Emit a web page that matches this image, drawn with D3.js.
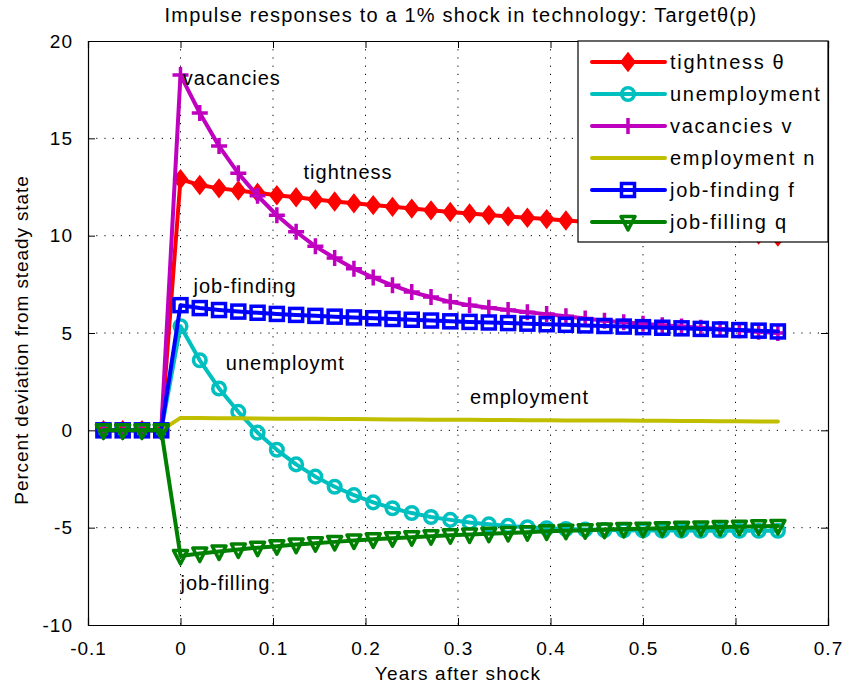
<!DOCTYPE html>
<html>
<head>
<meta charset="utf-8">
<script src="https://cdn.jsdelivr.net/npm/d3@7"></script>
<style>
  body { margin: 0; background: #fff; }
  text { font-family: "Liberation Sans", Arial, Helvetica, sans-serif; fill: #000; }
</style>
</head>
<body>
<div class="chart"></div>
<script>
// weekly periods (48 per year) around the shock
const STEPS = d3.range(-4, 32);
const YEARS = STEPS.map(k => k / 48);

// 4 pre-shock zeros then k = 0..31
const TIGHTNESS = [0, 0, 0, 0,
  12.9, 12.6, 12.43, 12.32, 12.2, 12.08, 11.97, 11.86, 11.76, 11.66, 11.57, 11.48,
  11.39, 11.3, 11.22, 11.14, 11.06, 10.99, 10.92, 10.85, 10.78, 10.71, 10.64, 10.57,
  10.5, 10.43, 10.36, 10.29, 10.22, 10.15, 10.06, 9.96];
const UNEMPLOYMENT = [0, 0, 0, 0,
  5.35, 3.6, 2.15, 0.95, -0.12, -1.0, -1.75, -2.38, -2.9, -3.33, -3.7, -4.0,
  -4.25, -4.45, -4.6, -4.73, -4.83, -4.91, -4.98, -5.03, -5.07, -5.1, -5.12, -5.13,
  -5.14, -5.15, -5.15, -5.16, -5.16, -5.16, -5.16, -5.16];
const VACANCIES = [0, 0, 0, 0,
  18.25, 16.3, 14.6, 13.2, 12.05, 11.05, 10.2, 9.45, 8.85, 8.3, 7.85, 7.45,
  7.1, 6.85, 6.6, 6.43, 6.3, 6.18, 6.07, 5.97, 5.86, 5.75, 5.63, 5.55,
  5.47, 5.4, 5.33, 5.27, 5.2, 5.14, 5.07, 5.0];
const EMPLOYMENT = [0, 0, 0, 0,
  0.64, 0.63, 0.62, 0.62, 0.61, 0.6, 0.6, 0.59, 0.58, 0.58, 0.57, 0.56,
  0.56, 0.55, 0.55, 0.54, 0.53, 0.53, 0.52, 0.52, 0.51, 0.51, 0.5, 0.5,
  0.49, 0.49, 0.48, 0.48, 0.47, 0.47, 0.46, 0.46];
const JOB_FINDING = [0, 0, 0, 0,
  6.43, 6.28, 6.18, 6.1, 6.04, 5.98, 5.93, 5.88, 5.84, 5.8, 5.76, 5.72,
  5.68, 5.64, 5.6, 5.57, 5.54, 5.51, 5.48, 5.45, 5.42, 5.39, 5.36, 5.33,
  5.3, 5.27, 5.24, 5.21, 5.18, 5.15, 5.12, 5.08];
const JOB_FILLING = [0, 0, 0, 0,
  -6.45, -6.33, -6.22, -6.12, -6.03, -5.95, -5.87, -5.8, -5.73, -5.66, -5.6, -5.54,
  -5.49, -5.44, -5.39, -5.35, -5.31, -5.27, -5.23, -5.19, -5.16, -5.13, -5.1, -5.07,
  -5.05, -5.03, -5.01, -4.99, -4.97, -4.95, -4.93, -4.91];

const X_TICKS = [-0.1, 0, 0.1, 0.2, 0.3, 0.4, 0.5, 0.6, 0.7];
const Y_TICKS = [-10, -5, 0, 5, 10, 15, 20];

const LEGEND_LABELS = ["tightness θ", "unemployment", "vacancies v", "employment n", "job-finding f", "job-filling q"];

// in-plot annotations: [label, x (years), y (percent)]
const ANNOTATIONS = [
  ["vacancies", 0.0025, 17.74],
  ["tightness", 0.133, 12.9],
  ["job-finding", 0.014, 7.05],
  ["unemploymt", 0.049, 3.1],
  ["employment", 0.313, 1.35],
  ["job-filling", 0.0, -8.2],
];

const SERIES = [
  { values: TIGHTNESS, color: "#ff0000", marker: "diamond" },
  { values: UNEMPLOYMENT, color: "#00bfbf", marker: "circle" },
  { values: VACANCIES, color: "#bf00bf", marker: "plus" },
  { values: EMPLOYMENT, color: "#bfbf00", marker: "none" },
  { values: JOB_FINDING, color: "#0000ff", marker: "square" },
  { values: JOB_FILLING, color: "#008000", marker: "triangle" },
];

const WIDTH = 850, HEIGHT = 688;
const PLOT = { left: 88, right: 828, top: 41, bottom: 625 };
const LINE_W = 4;

const xScale = d3.scaleLinear().domain([-0.1, 0.7]).range([PLOT.left, PLOT.right]);
const yScale = d3.scaleLinear().domain([-10, 20]).range([PLOT.bottom, PLOT.top]);

const svg = d3.select(".chart").append("svg")
  .attr("width", WIDTH).attr("height", HEIGHT);

svg.append("rect").attr("width", WIDTH).attr("height", HEIGHT).attr("fill", "#fff");

// grid
const grid = svg.append("g").attr("class", "grid")
  .attr("stroke", "#000").attr("stroke-width", 1).attr("stroke-dasharray", "1.2,7");
grid.selectAll(".gx").data(X_TICKS.slice(1, -1)).join("line")
  .attr("x1", d => xScale(d)).attr("x2", d => xScale(d))
  .attr("y1", PLOT.top).attr("y2", PLOT.bottom);
grid.selectAll(".gy").data(Y_TICKS.slice(1, -1)).join("line")
  .attr("y1", d => yScale(d)).attr("y2", d => yScale(d))
  .attr("x1", PLOT.left).attr("x2", PLOT.right);

// axes, ticks inward on all four sides
const fmt = d => String(+d.toFixed(1));
const TICK = 7;
svg.append("g").attr("transform", `translate(0,${PLOT.bottom})`)
  .call(d3.axisBottom(xScale).tickValues(X_TICKS).tickFormat(fmt).tickSize(-TICK).tickPadding(TICK + 10));
svg.append("g").attr("transform", `translate(${PLOT.left},0)`)
  .call(d3.axisLeft(yScale).tickValues(Y_TICKS).tickFormat(fmt).tickSize(-TICK).tickPadding(TICK + 8));
svg.append("g").attr("transform", `translate(0,${PLOT.top})`)
  .call(d3.axisTop(xScale).tickValues(X_TICKS).tickFormat("").tickSize(-TICK));
svg.append("g").attr("transform", `translate(${PLOT.right},0)`)
  .call(d3.axisRight(yScale).tickValues(Y_TICKS).tickFormat("").tickSize(-TICK));

svg.selectAll(".domain").attr("stroke", "#000").attr("stroke-width", 1.2);
svg.selectAll(".tick line").attr("stroke", "#000");
svg.selectAll(".tick text")
  .attr("font-size", 19).attr("letter-spacing", 1)
  .attr("font-family", "Liberation Sans, Arial, sans-serif").attr("fill", "#000");

// marker shapes
function drawMarker(g, type, color) {
  if (type === "diamond") {
    g.append("path").attr("d", "M0,-9L7,0L0,9L-7,0Z")
      .attr("fill", color).attr("stroke", color).attr("stroke-width", 1.5);
  } else if (type === "circle") {
    g.append("circle").attr("r", 6.3)
      .attr("fill", "none").attr("stroke", color).attr("stroke-width", 3.5);
  } else if (type === "plus") {
    g.append("path").attr("d", "M-8,0H8M0,-8V8")
      .attr("stroke", color).attr("stroke-width", 3.5);
  } else if (type === "square") {
    g.append("rect").attr("x", -6.5).attr("y", -6.5).attr("width", 13).attr("height", 13)
      .attr("fill", "none").attr("stroke", color).attr("stroke-width", 3.5);
  } else if (type === "triangle") {
    g.append("path").attr("d", "M-7,-5.5L7,-5.5L0,8Z")
      .attr("fill", "none").attr("stroke", color).attr("stroke-width", 3.5)
      .attr("stroke-linejoin", "round");
  }
}

const line = d3.line().x((d, i) => xScale(YEARS[i])).y(d => yScale(d));

const plot = svg.append("g").attr("class", "series");
SERIES.forEach(s => {
  const g = plot.append("g");
  g.append("path").datum(s.values)
    .attr("d", line).attr("fill", "none")
    .attr("stroke", s.color).attr("stroke-width", LINE_W)
    .attr("stroke-linejoin", "round").attr("stroke-linecap", "round");
  if (s.marker !== "none") {
    g.selectAll(".m").data(s.values).join("g")
      .attr("transform", (d, i) => `translate(${xScale(YEARS[i])},${yScale(d)})`)
      .each(function () { drawMarker(d3.select(this), s.marker, s.color); });
  }
});

// annotations
svg.append("g").selectAll("text").data(ANNOTATIONS).join("text")
  .attr("x", d => xScale(d[1])).attr("y", d => yScale(d[2]))
  .attr("font-size", 20).attr("letter-spacing", 1)
  .text(d => d[0]);

// legend
const legend = svg.append("g").attr("transform", "translate(578,41)");
legend.append("rect").attr("width", 250).attr("height", 201)
  .attr("fill", "#fff").attr("stroke", "#000").attr("stroke-width", 1.2);
LEGEND_LABELS.forEach((label, i) => {
  const s = SERIES[i];
  const row = legend.append("g").attr("transform", `translate(0,${21 + i * 32})`);
  row.append("line").attr("x1", 14).attr("x2", 87)
    .attr("stroke", s.color).attr("stroke-width", LINE_W).attr("stroke-linecap", "round");
  const m = row.append("g").attr("transform", "translate(50,0)");
  drawMarker(m, s.marker, s.color);
  row.append("text").attr("x", 92).attr("y", 7)
    .attr("font-size", 20).attr("letter-spacing", 1.7)
    .text(label);
});

// title and axis labels
svg.append("text")
  .attr("x", (PLOT.left + PLOT.right) / 2 + 3).attr("y", 22)
  .attr("text-anchor", "middle").attr("font-size", 20).attr("letter-spacing", 1.2)
  .text("Impulse responses to a 1% shock in technology: Targetθ(p)");

svg.append("text")
  .attr("x", (PLOT.left + PLOT.right) / 2).attr("y", 680)
  .attr("text-anchor", "middle").attr("font-size", 19).attr("letter-spacing", 1.2)
  .text("Years after shock");

svg.append("text")
  .attr("transform", `translate(28,${(PLOT.top + PLOT.bottom) / 2 + 7}) rotate(-90)`)
  .attr("text-anchor", "middle").attr("font-size", 19).attr("letter-spacing", 0.9)
  .text("Percent deviation from steady state");
</script>
</body>
</html>
